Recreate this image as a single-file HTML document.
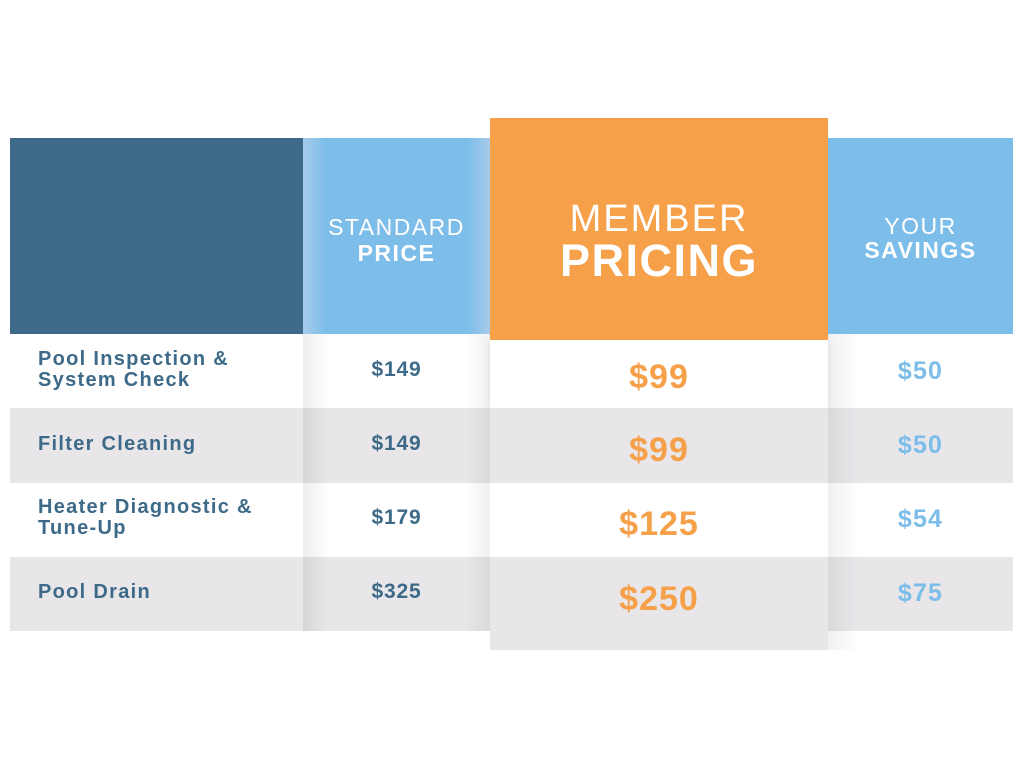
<!DOCTYPE html>
<html><head><style>
body{margin:0;width:1024px;height:768px;background:#fff;position:relative;overflow:hidden;font-family:"Liberation Sans",sans-serif}
div{position:absolute;box-sizing:border-box}
.g{background:#e8e6e9}
.t{text-align:center}
.lab{left:38px;color:#3d6a88;font-weight:bold;font-size:20px;line-height:21px;letter-spacing:1.3px}
.sp{left:303px;width:187px;color:#3d6a88;font-weight:bold;font-size:21px;text-align:center;letter-spacing:0.8px}
.mp{left:490px;width:338px;color:#f6a04a;font-weight:bold;font-size:34px;text-align:center;letter-spacing:1px}
.ys{left:828px;width:185px;color:#7dbde9;font-weight:bold;font-size:25px;text-align:center;letter-spacing:1.2px}
</style></head><body>
<div class="g" style="left:10px;top:408px;width:1003px;height:75px"></div>
<div class="g" style="left:10px;top:557px;width:1003px;height:74px"></div>
<div style="left:10px;top:138px;width:293px;height:196px;background:#3d6a88"></div>
<div style="left:303px;top:138px;width:187px;height:196px;background:linear-gradient(90deg,#a6cbea,#7dbde9 12%,#7dbde9 88%,#a6cbea)"></div>
<div style="left:303px;top:334px;width:187px;height:297px;background:linear-gradient(90deg,rgba(0,0,0,.07),rgba(0,0,0,0) 14%,rgba(0,0,0,0) 86%,rgba(0,0,0,.06))"></div>
<div style="left:828px;top:138px;width:185px;height:196px;background:#7dbde9"></div>
<div style="left:828px;top:334px;width:30px;height:316px;background:linear-gradient(90deg,rgba(0,0,0,.06),rgba(0,0,0,0))"></div>
<div style="left:490px;top:340px;width:338px;height:68px;background:#fff;box-shadow:0 0 8px rgba(0,0,0,.08)"></div>
<div style="left:490px;top:408px;width:338px;height:75px;background:#e8e6e9"></div>
<div style="left:490px;top:483px;width:338px;height:74px;background:#fff"></div>
<div style="left:490px;top:557px;width:338px;height:93px;background:#e8e6e9"></div>
<div style="left:490px;top:118px;width:338px;height:222px;background:#f6a04a"></div>
<div class="t" style="left:303px;top:214px;width:187px;color:#fff;font-size:23px;line-height:26px;letter-spacing:1.5px">STANDARD<br><b>PRICE</b></div>
<div class="t" style="left:490px;top:198px;width:338px;color:#fff;font-size:38px;line-height:42px;letter-spacing:2px">MEMBER<br><b style="font-size:45px;letter-spacing:1.5px">PRICING</b></div>
<div class="t" style="left:828px;top:214px;width:185px;color:#fff;font-size:23px;line-height:24px;letter-spacing:1.5px">YOUR<br><b>SAVINGS</b></div>
<div class="lab" style="top:349px">Pool Inspection &amp;<br>System Check</div>
<div class="lab" style="top:434px">Filter Cleaning</div>
<div class="lab" style="top:497px">Heater Diagnostic &amp;<br>Tune-Up</div>
<div class="lab" style="top:582px">Pool Drain</div>
<div class="sp" style="top:358px">$149</div>
<div class="sp" style="top:432px">$149</div>
<div class="sp" style="top:506px">$179</div>
<div class="sp" style="top:580px">$325</div>
<div class="mp" style="top:358px">$99</div>
<div class="mp" style="top:431px">$99</div>
<div class="mp" style="top:505px">$125</div>
<div class="mp" style="top:580px">$250</div>
<div class="ys" style="top:357px">$50</div>
<div class="ys" style="top:431px">$50</div>
<div class="ys" style="top:505px">$54</div>
<div class="ys" style="top:579px">$75</div>
</body></html>
